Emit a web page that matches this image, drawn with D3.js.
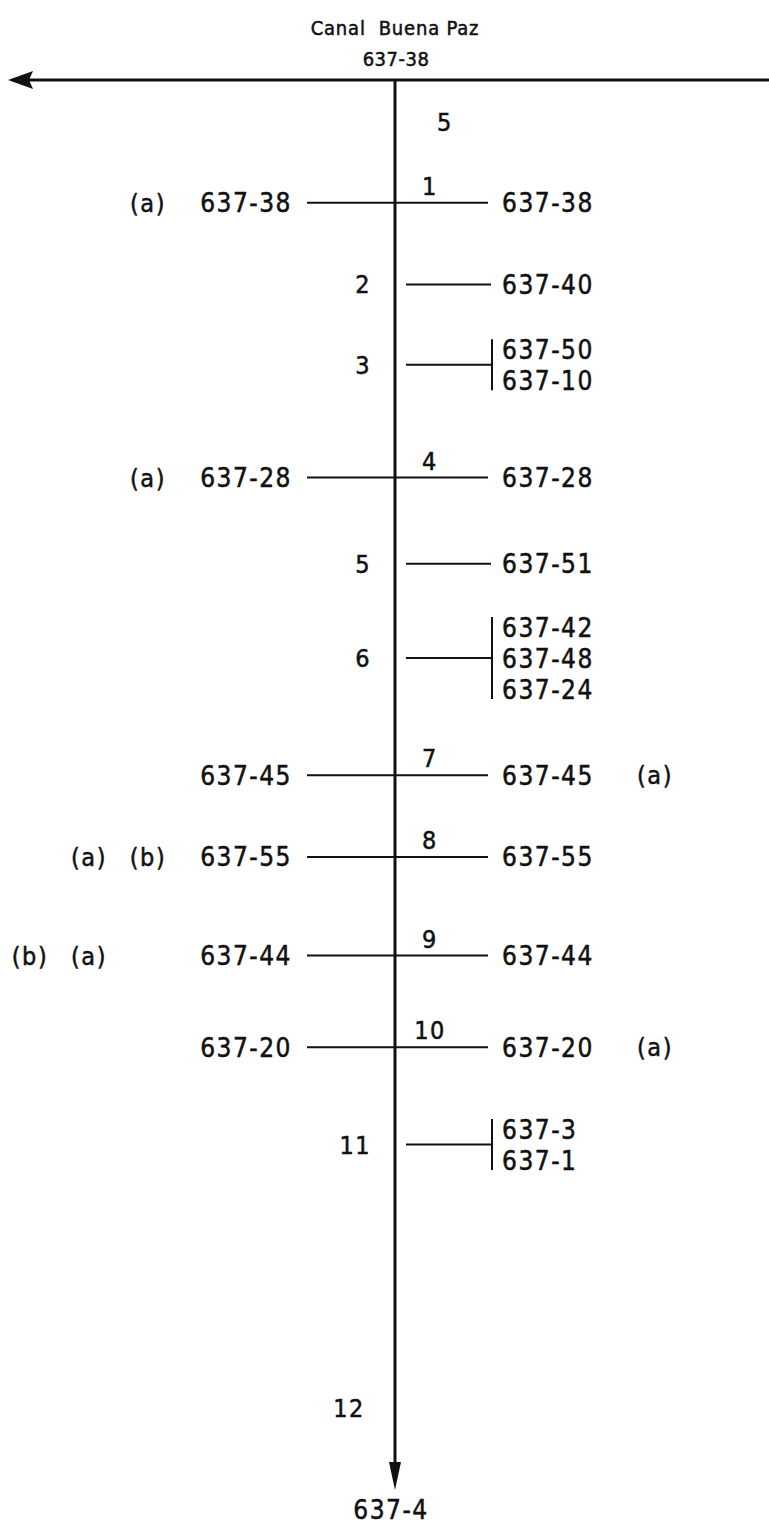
<!DOCTYPE html>
<html>
<head>
<meta charset="utf-8">
<script src="https://cdn.jsdelivr.net/npm/d3@7"></script>
<style>
  body { margin: 0; background: #fff; }
  text { font-family: "DejaVu Sans Condensed", "DejaVu Sans", sans-serif; fill: #111; stroke: #111; stroke-width: 0.5px; }
</style>
</head>
<body>
<div id="my_dataviz"></div>
<script>
// canal and its outlets
var canalName = "Canal  Buena Paz";
var canalCode = "637-38";
var endCode = "637-4";

// position of each outlet along the canal (0 = main canal, 100 = end)
var junctionNo = ["1", "2", "3", "4", "5", "6", "7", "8", "9", "10", "11"];
var junctionAt = [8.7, 14.5, 20.2, 28.2, 34.3, 41.0, 49.3, 55.1, 62.1, 68.6, 75.5];
var crossing   = [true, false, false, true, false, false, true, true, true, true, false];

var rightCodes = [["637-38"], ["637-40"], ["637-50", "637-10"], ["637-28"], ["637-51"],
                  ["637-42", "637-48", "637-24"], ["637-45"], ["637-55"], ["637-44"],
                  ["637-20"], ["637-3", "637-1"]];
var leftCodes  = ["637-38", null, null, "637-28", null, null, "637-45", "637-55", "637-44", "637-20", null];

// notes: [text, column]
var leftNotes  = [[["(a)", 2]], [], [], [["(a)", 2]], [], [], [], [["(a)", 1], ["(b)", 2]],
                  [["(b)", 0], ["(a)", 1]], [], []];
var rightNotes = ["", "", "", "", "", "", "(a)", "", "", "(a)", ""];

// section labels along the canal
var sectionNo = ["5", "12"];
var sectionAt = [3.0, 94.2];

var width = 769, height = 1525;
var mainX = 395;

var svg = d3.select("#my_dataviz")
    .append("svg")
    .attr("width", width)
    .attr("height", height);

var y = d3.scaleLinear().domain([0, 100]).range([80, 1490]);
var noteX = d3.scalePoint().domain([0, 1, 2]).range([30, 148]);

var rows = junctionNo.map(function(n, i) {
    return { no: n, at: junctionAt[i], cross: crossing[i], right: rightCodes[i],
             left: leftCodes[i], notes: leftNotes[i], rnote: rightNotes[i] };
});

// title
svg.append("text")
    .attr("x", mainX).attr("y", 35)
    .attr("text-anchor", "middle")
    .style("font-size", "20px")
    .style("letter-spacing", "0.8px")
    .style("white-space", "pre")
    .text(canalName);
svg.append("text")
    .attr("x", mainX + 1).attr("y", 66)
    .attr("text-anchor", "middle")
    .style("font-size", "20px")
    .style("letter-spacing", "0.5px")
    .text(canalCode);

// main canal with arrow to the left
svg.append("line")
    .attr("x1", 28).attr("x2", width)
    .attr("y1", y(0)).attr("y2", y(0))
    .attr("stroke", "#111").attr("stroke-width", 3);
svg.append("path")
    .attr("d", "M8," + y(0) + "L33," + (y(0) - 9) + "L29," + y(0) + "L33," + (y(0) + 9) + "Z")
    .attr("fill", "#111");

// lateral canal going down
svg.append("line")
    .attr("x1", mainX).attr("x2", mainX)
    .attr("y1", y(0)).attr("y2", y(100) - 20)
    .attr("stroke", "#111").attr("stroke-width", 3);
svg.append("path")
    .attr("d", "M" + mainX + "," + y(100) + "L" + (mainX - 6) + "," + (y(100) - 28) +
               "L" + (mainX + 6) + "," + (y(100) - 28) + "Z")
    .attr("fill", "#111");
svg.append("text")
    .attr("x", mainX - 4).attr("y", y(100) + 29)
    .attr("text-anchor", "middle")
    .style("font-size", "26px")
    .style("letter-spacing", "1.5px")
    .text(endCode);

svg.selectAll(".section")
    .data(sectionNo)
    .enter().append("text")
    .attr("class", "section")
    .attr("x", function(d, i) { return i == 0 ? 445 : 349; })
    .attr("y", function(d, i) { return y(sectionAt[i]) + 9; })
    .attr("text-anchor", "middle")
    .style("font-size", "25px")
    .style("letter-spacing", "1.5px")
    .text(function(d) { return d; });

var g = svg.selectAll(".junction")
    .data(rows)
    .enter().append("g")
    .attr("class", "junction")
    .attr("transform", function(d) { return "translate(0," + y(d.at) + ")"; });

// branch lines
g.append("line")
    .attr("x1", function(d) { return d.cross ? 307 : 406; })
    .attr("x2", function(d) { return d.cross ? 488 : 491; })
    .attr("y1", 0).attr("y2", 0)
    .attr("stroke", "#111").attr("stroke-width", 2);

var spacing = 31;

// bracket bar when several outlets share one offtake
g.filter(function(d) { return d.right.length > 1; })
    .append("line")
    .attr("x1", 492).attr("x2", 492)
    .attr("y1", function(d) { return -(spacing * (d.right.length - 1) / 2 + 10); })
    .attr("y2", function(d) { return spacing * (d.right.length - 1) / 2 + 10; })
    .attr("stroke", "#111").attr("stroke-width", 2);

// junction numbers
g.append("text")
    .attr("x", function(d) { return d.cross ? 430 : 371; })
    .attr("y", function(d) { return d.cross ? -8 : 9; })
    .attr("text-anchor", function(d) { return d.cross ? "middle" : "end"; })
    .style("font-size", "25px")
    .style("letter-spacing", "1.5px")
    .text(function(d) { return d.no; });

// right codes
g.selectAll(".rcode")
    .data(function(d) {
        return d.right.map(function(c, k) { return { code: c, off: (k - (d.right.length - 1) / 2) * spacing }; });
    })
    .enter().append("text")
    .attr("class", "rcode")
    .attr("x", 502)
    .attr("y", function(d) { return d.off + 9.5; })
    .style("font-size", "26px")
    .style("letter-spacing", "1.5px")
    .text(function(d) { return d.code; });

// left codes
g.filter(function(d) { return d.left; })
    .append("text")
    .attr("x", 292)
    .attr("y", 9.5)
    .attr("text-anchor", "end")
    .style("font-size", "26px")
    .style("letter-spacing", "1.5px")
    .text(function(d) { return d.left; });

// notes
g.selectAll(".lnote")
    .data(function(d) { return d.notes; })
    .enter().append("text")
    .attr("class", "lnote")
    .attr("x", function(d) { return noteX(d[1]); })
    .attr("y", 9)
    .attr("text-anchor", "middle")
    .style("font-size", "25px")
    .style("letter-spacing", "1.5px")
    .text(function(d) { return d[0]; });

g.filter(function(d) { return d.rnote; })
    .append("text")
    .attr("x", 655)
    .attr("y", 9)
    .attr("text-anchor", "middle")
    .style("font-size", "25px")
    .style("letter-spacing", "1.5px")
    .text(function(d) { return d.rnote; });
</script>
</body>
</html>
